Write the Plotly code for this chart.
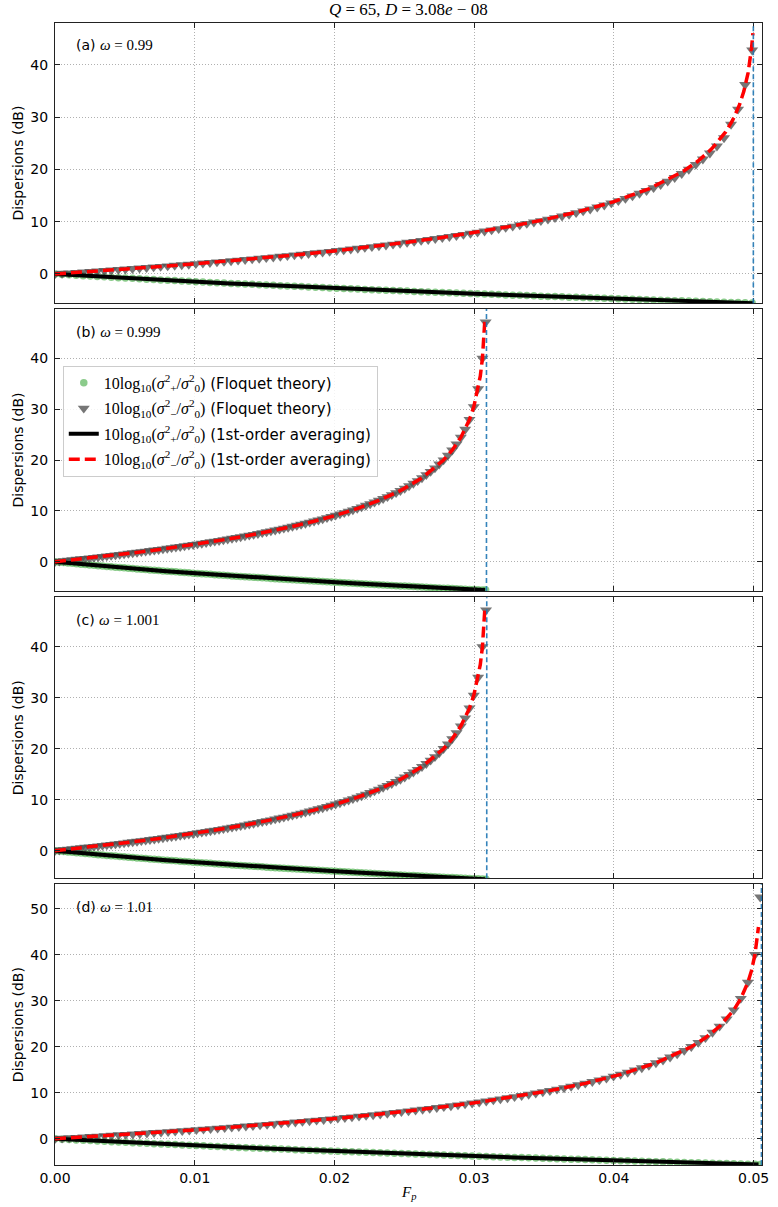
import numpy as np
import plotly.graph_objects as go
from plotly.subplots import make_subplots

# ---------------- data ----------------
panel_labels = ["(a)", "(b)", "(c)", "(d)"]
omega_values = ["0.99", "0.999", "1.001", "1.01"]

# Floquet sampling: 100 equally spaced F_p values per panel
marker_step = [0.000504, 0.000309, 0.000309, 0.000506]
threshold_F = [0.04998, 0.03088, 0.03090, 0.05056]
y_ranges = [[-5.6, 48.0], [-5.76, 49.7], [-5.4, 49.7], [-5.7, 55.3]]

floquet_upper_base = [
    0.0, 0.09, 0.18, 0.26, 0.35, 0.45, 0.54, 0.63, 0.72, 0.82,
    0.92, 1.01, 1.11, 1.21, 1.31, 1.41, 1.51, 1.62, 1.72, 1.83,
    1.94, 2.05, 2.16, 2.27, 2.38, 2.50, 2.62, 2.73, 2.85, 2.97,
    3.10, 3.22, 3.35, 3.48, 3.61, 3.74, 3.88, 4.01, 4.15, 4.29,
    4.44, 4.58, 4.73, 4.88, 5.04, 5.19, 5.35, 5.51, 5.68, 5.85,
    6.02, 6.20, 6.38, 6.56, 6.75, 6.94, 7.13, 7.33, 7.54, 7.74,
    7.96, 8.18, 8.40, 8.64, 8.87, 9.12, 9.37, 9.63, 9.90, 10.17,
    10.46, 10.75, 11.06, 11.37, 11.70, 12.04, 12.40, 12.77, 13.15, 13.56,
    13.98, 14.42, 14.90, 15.39, 15.92, 16.48, 17.08, 17.72, 18.42, 19.17,
    20.0, 20.92, 21.94, 23.10, 24.44, 26.02, 27.96, 30.46, 33.98, 40.0]

floquet_lower_base = [
    0.0, -0.08, -0.16, -0.24, -0.32, -0.39, -0.47, -0.55, -0.62, -0.70,
    -0.77, -0.84, -0.92, -0.99, -1.06, -1.13, -1.20, -1.27, -1.34, -1.41,
    -1.47, -1.54, -1.61, -1.67, -1.74, -1.80, -1.87, -1.93, -1.99, -2.06,
    -2.12, -2.18, -2.24, -2.30, -2.36, -2.42, -2.48, -2.54, -2.60, -2.66,
    -2.72, -2.78, -2.83, -2.89, -2.95, -3.00, -3.06, -3.11, -3.17, -3.22,
    -3.28, -3.33, -3.38, -3.44, -3.49, -3.54, -3.59, -3.64, -3.70, -3.75,
    -3.80, -3.85, -3.90, -3.95, -4.00, -4.05, -4.09, -4.14, -4.19, -4.24,
    -4.29, -4.33, -4.38, -4.43, -4.47, -4.52, -4.57, -4.61, -4.66, -4.70,
    -4.75, -4.79, -4.84, -4.88, -4.93, -4.97, -5.01, -5.06, -5.10, -5.14,
    -5.19, -5.23, -5.27, -5.31, -5.35, -5.40, -5.44, -5.48, -5.52, -5.56]

# panel (a) last four Floquet points read separately
floquet_upper_tail_a = [28.6, 31.5, 36.2, 42.8]
# final near-threshold Floquet point of panels (b), (c), (d)
extra_F = [None, 0.03082, 0.03085, 0.05047]
extra_upper = [None, 47.1, 47.2, 52.5]
extra_lower = [None, -5.58, -5.58, -5.58]

# 1st-order averaging curves
avg_F_a = [0, 0.0025, 0.005, 0.0075, 0.01, 0.0125, 0.015, 0.0175, 0.02, 0.0225,
           0.025, 0.0275, 0.03, 0.0325, 0.035, 0.0375, 0.04, 0.0425, 0.045, 0.046,
           0.047, 0.048, 0.0485, 0.049, 0.0493, 0.0496, 0.04985, 0.04995]
avg_upper_a = [0, 0.44, 0.91, 1.41, 1.93, 2.49, 3.08, 3.72, 4.41, 5.16,
               5.99, 6.89, 7.91, 9.05, 10.38, 11.94, 13.84, 16.28, 19.69, 21.55,
               23.92, 27.17, 29.40, 32.43, 34.94, 38.42, 43.14, 46.06]
avg_lower_a = [0, -0.39, -0.77, -1.13, -1.47, -1.80, -2.11, -2.42, -2.71, -2.99,
               -3.26, -3.53, -3.79, -4.03, -4.27, -4.51, -4.73, -4.95, -5.17, -5.25,
               -5.34, -5.42, -5.46, -5.50, -5.52, -5.55, -5.57, -5.58]

avg_F_bc = [0, 0.001545, 0.00309, 0.004635, 0.00618, 0.007725, 0.00927, 0.010815,
            0.01236, 0.013905, 0.01545, 0.016995, 0.01854, 0.020085, 0.02163,
            0.023175, 0.02472, 0.026265, 0.02781, 0.028428, 0.029046, 0.029664,
            0.029973, 0.030282, 0.030437, 0.030591, 0.030684, 0.030776]
avg_upper_bc = [0, 0.45, 0.92, 1.41, 1.94, 2.50, 3.10, 3.74, 4.44, 5.19,
                6.02, 6.94, 7.96, 9.12, 10.46, 12.04, 13.98, 16.48, 20.0, 21.94,
                24.44, 27.96, 30.46, 33.98, 36.48, 40.0, 43.10, 47.96]
avg_lower_bc = [0, -0.39, -0.77, -1.13, -1.47, -1.80, -2.12, -2.42, -2.72, -3.00,
                -3.28, -3.54, -3.80, -4.05, -4.29, -4.52, -4.75, -4.97, -5.19, -5.27,
                -5.35, -5.44, -5.48, -5.52, -5.54, -5.56, -5.57, -5.58]

avg_F_d = [0, 0.00253, 0.00506, 0.00759, 0.01012, 0.01265, 0.01518, 0.01771,
           0.02024, 0.02277, 0.0253, 0.02783, 0.03036, 0.03289, 0.03542, 0.03795,
           0.04048, 0.04301, 0.04554, 0.046552, 0.047564, 0.048576, 0.049082,
           0.049588, 0.049841, 0.050094, 0.050246, 0.050347]
avg_upper_d = [0, 0.45, 0.92, 1.41, 1.94, 2.50, 3.10, 3.74, 4.44, 5.19,
               6.02, 6.94, 7.96, 9.12, 10.46, 12.04, 13.98, 16.48, 20.0, 21.94,
               24.44, 27.96, 30.46, 33.98, 36.48, 40.0, 43.10, 46.02]
avg_lower_d = avg_lower_bc

avg_F = [avg_F_a, avg_F_bc, avg_F_bc, avg_F_d]
avg_upper = [avg_upper_a, avg_upper_bc, avg_upper_bc, avg_upper_d]
avg_lower = [avg_lower_a, avg_lower_bc, avg_lower_bc, avg_lower_d]

# ---------------- figure ----------------
W, H = 778, 1207
ML, MR, MT, MB = 55, 9, 23, 42
domains = [[0.7546, 1.0], [0.5026, 0.7496], [0.2511, 0.4971], [0.0, 0.2458]]

SERIF = "Liberation Serif"
SANS = "DejaVu Sans"

def mathspan(s, size=None):
    st = f"font-family:{SERIF}"
    if size:
        st += f";font-size:{size}px"
    return f'<span style="{st}">{s}</span>'

sig_p = "10log<sub>10</sub>(<i>σ</i><sup>2</sup><sub>+</sub>/<i>σ</i><sup>2</sup><sub>0</sub>)"
sig_m = "10log<sub>10</sub>(<i>σ</i><sup>2</sup><sub>−</sub>/<i>σ</i><sup>2</sup><sub>0</sub>)"
names = [mathspan(sig_p, 16) + " (Floquet theory)",
         mathspan(sig_m, 16) + " (Floquet theory)",
         mathspan(sig_p, 16) + " (1st-order averaging)",
         mathspan(sig_m, 16) + " (1st-order averaging)"]

fig = make_subplots(rows=4, cols=1)

for p in range(4):
    r = p + 1
    n = len(floquet_upper_base)
    Fm = list(np.arange(n) * marker_step[p])
    up = list(floquet_upper_base)
    lo = list(floquet_lower_base)
    if p == 0:
        up = up[:96] + floquet_upper_tail_a
    if extra_F[p] is not None:
        Fm = Fm + [extra_F[p]]
        up = up + [extra_upper[p]]
        lo = lo + [extra_lower[p]]
    show = (p == 0)
    fig.add_trace(go.Scatter(x=Fm, y=lo, mode="markers", name=names[0],
                             legendgroup="g0", showlegend=show,
                             marker=dict(symbol="circle", size=7.5,
                                         color="rgba(44,160,44,0.55)", line=dict(width=0))),
                  row=r, col=1)
    fig.add_trace(go.Scatter(x=Fm, y=up, mode="markers", name=names[1],
                             legendgroup="g1", showlegend=show,
                             marker=dict(symbol="triangle-down", size=10.5,
                                         color="rgba(80,80,80,0.78)", line=dict(width=0))),
                  row=r, col=1)
    fig.add_trace(go.Scatter(x=avg_F[p], y=avg_lower[p], mode="lines", name=names[2],
                             legendgroup="g2", showlegend=show,
                             line=dict(color="black", width=4)),
                  row=r, col=1)
    fig.add_trace(go.Scatter(x=avg_F[p], y=avg_upper[p], mode="lines", name=names[3],
                             legendgroup="g3", showlegend=show,
                             line=dict(color="red", width=3.5, dash="11px,5px")),
                  row=r, col=1)

    axis_common = dict(showline=True, linecolor="#222222", linewidth=1.2, mirror="ticks",
                       ticks="inside", ticklen=5, tickwidth=1, tickcolor="#222222",
                       showgrid=True, gridcolor="#b0b0b0", gridwidth=0.8, griddash="1px,2px",
                       zeroline=False, tickfont=dict(family=SANS, size=14, color="black"))
    fig.update_xaxes(range=[0, 0.0506], dtick=0.01, tick0=0, tickformat=".2f",
                     showticklabels=(r == 4), ticklabeloverflow="allow",
                     domain=[0, 1], row=r, col=1, **axis_common)
    fig.update_yaxes(range=y_ranges[p], dtick=10, tick0=0, domain=domains[p],
                     title=dict(text="Dispersions (dB)", font=dict(family=SANS, size=14, color="black"),
                                standoff=3),
                     ticklabelstandoff=3, row=r, col=1, **axis_common)

    xref = "x" if r == 1 else f"x{r}"
    yref = "y" if r == 1 else f"y{r}"
    fig.add_shape(type="line", xref=xref, yref=f"{yref} domain",
                  x0=threshold_F[p], x1=threshold_F[p], y0=0, y1=1,
                  line=dict(color="rgba(31,119,180,0.9)", width=1.6, dash="5px,3px"))
    fig.add_annotation(xref=f"{xref} domain", yref=f"{yref} domain", x=0.027, y=0.92,
                       xanchor="left", yanchor="middle", showarrow=False,
                       text=f'{panel_labels[p]} ' + mathspan(f"<i>ω</i> = {omega_values[p]}", 15),
                       font=dict(family=SANS, size=14, color="black"))

fig.add_annotation(xref="paper", yref="paper", x=0.5, y=1.0114, xanchor="center",
                   yanchor="middle", showarrow=False,
                   text="<i>Q</i> = 65, <i>D</i> = 3.08<i>e</i> − 08",
                   font=dict(family=SERIF, size=17, color="black"))
fig.add_annotation(xref="paper", yref="paper", x=0.5, y=-0.0245, xanchor="center",
                   yanchor="middle", showarrow=False,
                   text="<i>F</i><sub><i>p</i></sub>",
                   font=dict(family=SERIF, size=15, color="black"))

fig.update_layout(
    width=W, height=H, margin=dict(l=ML, r=MR, t=MT, b=MB),
    paper_bgcolor="white", plot_bgcolor="white",
    font=dict(family=SANS, size=14, color="black"),
    legend=dict(x=0.011, y=0.700, xanchor="left", yanchor="top",
                bgcolor="rgba(255,255,255,0.85)", bordercolor="#cccccc", borderwidth=1,
                font=dict(family=SANS, size=15, color="black"), tracegroupgap=3,
                itemwidth=30),
)

fig.write_html("out.html", config={"displayModeBar": False},
               post_script="document.body.style.margin='0';document.body.style.padding='0';")
